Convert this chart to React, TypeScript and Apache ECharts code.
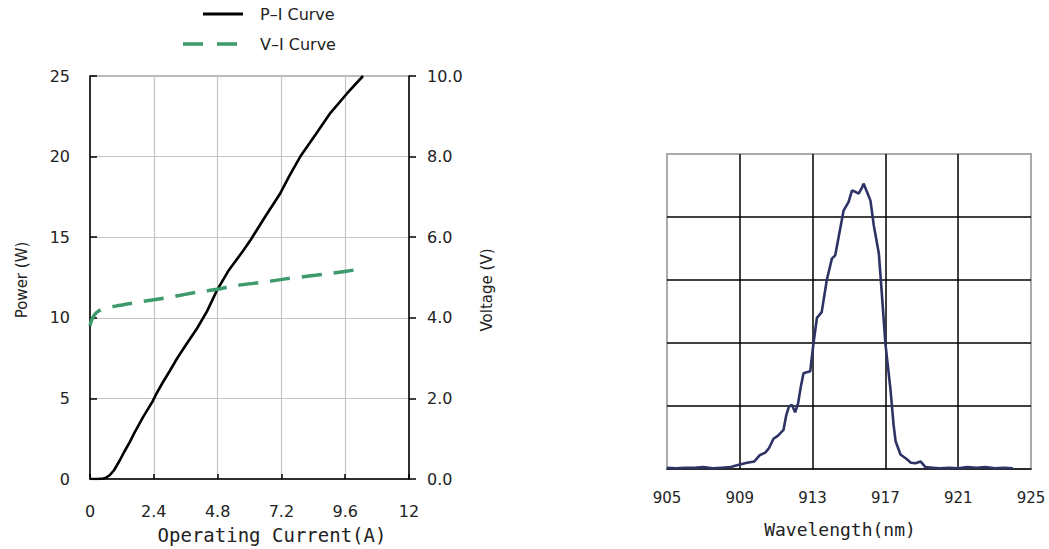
import React, { useEffect, useRef } from "react";
import * as echarts from "echarts";

// P-I curve (Operating current A, Power W)
const piCurrent = [0, 0.3, 0.5, 0.6, 0.75, 0.91, 1.1, 1.29, 1.5, 1.66, 2.0, 2.35, 2.5, 2.72, 3.0, 3.28, 3.6, 4.03, 4.4, 4.78, 5.2, 5.78, 6.04, 6.6, 7.16, 7.5, 7.91, 8.5, 9.04, 9.66, 10.27];
const piPower = [0, 0, 0.03, 0.08, 0.25, 0.56, 1.1, 1.69, 2.3, 2.83, 3.85, 4.8, 5.3, 5.94, 6.7, 7.49, 8.3, 9.35, 10.4, 11.72, 12.9, 14.2, 14.83, 16.3, 17.73, 18.8, 20.0, 21.4, 22.7, 23.9, 25.0];

// V-I curve (Operating current A, Voltage V)
const viCurrent = [0, 0.05, 0.1, 0.2, 0.3, 0.45, 0.96, 1.65, 2.9, 4.16, 4.8, 5.4, 6.72, 7.29, 9.04, 10.29];
const viVoltage = [3.8, 3.92, 4.0, 4.1, 4.16, 4.21, 4.29, 4.37, 4.5, 4.65, 4.71, 4.79, 4.9, 4.96, 5.1, 5.22];

// Spectrum (wavelength nm, relative intensity)
const specWavelength = [905.0, 905.5, 906.0, 906.5, 907.0, 907.5, 908.0, 908.5, 909.0, 909.4, 909.8, 910.1, 910.4, 910.6, 910.85, 911.1, 911.4, 911.55, 911.7, 911.86, 912.04, 912.2, 912.35, 912.5, 912.87, 913.05, 913.24, 913.5, 913.78, 914.06, 914.24, 914.5, 914.7, 914.98, 915.16, 915.35, 915.53, 915.72, 915.8, 916.0, 916.18, 916.36, 916.64, 916.8, 917.0, 917.28, 917.45, 917.56, 917.83, 918.2, 918.4, 918.66, 918.93, 919.2, 919.6, 920.0, 920.5, 921.0, 921.5, 922.0, 922.5, 923.0, 923.5, 924.0];
const specIntensity = [0.02, 0.01, 0.02, 0.02, 0.03, 0.01, 0.02, 0.03, 0.07, 0.1, 0.12, 0.22, 0.26, 0.33, 0.48, 0.53, 0.62, 0.85, 0.99, 1.02, 0.9, 1.04, 1.3, 1.52, 1.55, 2.0, 2.4, 2.49, 3.0, 3.34, 3.39, 3.79, 4.1, 4.24, 4.42, 4.4, 4.37, 4.47, 4.53, 4.39, 4.26, 3.87, 3.42, 2.8, 1.99, 1.26, 0.7, 0.44, 0.23, 0.15, 0.1, 0.09, 0.12, 0.03, 0.02, 0.01, 0.02, 0.01, 0.03, 0.02, 0.03, 0.01, 0.02, 0.01];

const WL_MIN = 905;
const WL_MAX = 925;
const WL_STEP = 4;

const labelFont = "DejaVu Sans, Verdana, sans-serif";
const monoFont = "DejaVu Sans Mono, monospace";

export default function App() {
  const ref = useRef<HTMLDivElement>(null);

  useEffect(() => {
    if (!ref.current) return;
    const chart = echarts.init(ref.current, null, { renderer: "svg" });

    const piData = piCurrent.map((c, i) => [c, piPower[i]]);
    const viData = viCurrent.map((c, i) => [c, viVoltage[i]]);
    const specData = specWavelength.map((w, i) => [w - WL_MIN, specIntensity[i]]);

    chart.setOption({
      animation: false,
      backgroundColor: "#fff",
      grid: [
        { left: 90, top: 76, width: 319, height: 403, show: true, borderColor: "#777", borderWidth: 1 },
        { left: 667, top: 154, width: 364, height: 315, show: true, borderColor: "#aaa", borderWidth: 2 },
      ],
      xAxis: [
        {
          type: "value",
          gridIndex: 0,
          min: 0,
          max: 12,
          interval: 2.4,
          axisLine: { show: true, lineStyle: { color: "#000", width: 1.5 } },
          axisTick: { show: true, inside: true, length: 5, lineStyle: { color: "#000", width: 1.5 } },
          axisLabel: {
            margin: 24,
            fontSize: 16,
            color: "#222",
            fontFamily: labelFont,
            formatter: (v: number) => String(+v.toFixed(1)),
          },
          splitLine: { show: true, showMinLine: false, showMaxLine: false, lineStyle: { color: "#c4c4c4", width: 1.2 } },
        },
        {
          type: "value",
          gridIndex: 1,
          min: 0,
          max: WL_MAX - WL_MIN,
          interval: WL_STEP,
          axisLine: { show: true, lineStyle: { color: "#000", width: 1.5 } },
          axisTick: { show: false },
          axisLabel: {
            margin: 21,
            fontSize: 15,
            color: "#222",
            fontFamily: labelFont,
            formatter: (v: number) => String(Math.round(v + WL_MIN)),
          },
          splitLine: { show: true, showMinLine: false, showMaxLine: false, lineStyle: { color: "#000", width: 1.5 } },
        },
      ],
      yAxis: [
        {
          type: "value",
          gridIndex: 0,
          min: 0,
          max: 25,
          interval: 5,
          position: "left",
          axisLine: { show: true, lineStyle: { color: "#000", width: 1.5 } },
          axisTick: { show: true, inside: true, length: 7, lineStyle: { color: "#000", width: 1.5 } },
          axisLabel: { margin: 20, fontSize: 16, color: "#222", fontFamily: labelFont },
          splitLine: { show: true, showMinLine: false, showMaxLine: false, lineStyle: { color: "#c4c4c4", width: 1.2 } },
        },
        {
          type: "value",
          gridIndex: 0,
          min: 0,
          max: 10,
          interval: 2,
          position: "right",
          axisLine: { show: true, lineStyle: { color: "#000", width: 1.5 } },
          axisTick: { show: true, inside: false, length: 7, lineStyle: { color: "#000", width: 1.5 } },
          axisLabel: {
            margin: 18,
            fontSize: 16,
            color: "#222",
            fontFamily: labelFont,
            formatter: (v: number) => v.toFixed(1),
          },
          splitLine: { show: false },
        },
        {
          type: "value",
          gridIndex: 1,
          min: 0,
          max: 5,
          interval: 1,
          axisLine: { show: false },
          axisTick: { show: false },
          axisLabel: { show: false },
          splitLine: { show: true, showMinLine: false, showMaxLine: false, lineStyle: { color: "#000", width: 1.5 } },
        },
      ],
      series: [
        {
          name: "P-I Curve",
          type: "line",
          xAxisIndex: 0,
          yAxisIndex: 0,
          data: piData,
          showSymbol: false,
          symbol: "none",
          lineStyle: { color: "#000", width: 2.6 },
          z: 3,
        },
        {
          name: "V-I Curve",
          type: "line",
          xAxisIndex: 0,
          yAxisIndex: 1,
          data: viData,
          showSymbol: false,
          symbol: "none",
          smooth: 0.3,
          lineStyle: { color: "#3d9a6b", width: 3.5, type: [20, 12] },
          z: 4,
        },
        {
          name: "Spectrum",
          type: "line",
          xAxisIndex: 1,
          yAxisIndex: 2,
          data: specData,
          showSymbol: false,
          symbol: "none",
          lineStyle: { color: "#2e3366", width: 2.6 },
          z: 3,
        },
      ],
      graphic: [
        { type: "line", shape: { x1: 203, y1: 14, x2: 243, y2: 14 }, style: { stroke: "#000", lineWidth: 3 } },
        {
          type: "text",
          x: 260,
          y: 14,
          style: { text: "P\u2013I Curve", fontSize: 16, fill: "#222", fontFamily: labelFont, align: "left", verticalAlign: "middle" },
        },
        {
          type: "line",
          shape: { x1: 183, y1: 44, x2: 240, y2: 44 },
          style: { stroke: "#3d9a6b", lineWidth: 3.5, lineDash: [20, 14] },
        },
        {
          type: "text",
          x: 260,
          y: 44,
          style: { text: "V\u2013I Curve", fontSize: 16, fill: "#222", fontFamily: labelFont, align: "left", verticalAlign: "middle" },
        },
        {
          type: "text",
          x: 22,
          y: 280,
          rotation: Math.PI / 2,
          style: { text: "Power (W)", fontSize: 15, fill: "#222", fontFamily: labelFont, align: "center", verticalAlign: "middle" },
        },
        {
          type: "text",
          x: 487,
          y: 290,
          rotation: Math.PI / 2,
          style: { text: "Voltage (V)", fontSize: 15, fill: "#222", fontFamily: labelFont, align: "center", verticalAlign: "middle" },
        },
        {
          type: "text",
          x: 272,
          y: 535,
          style: { text: "Operating Current(A)", fontSize: 19, fill: "#222", fontFamily: monoFont, align: "center", verticalAlign: "middle" },
        },
        {
          type: "text",
          x: 840,
          y: 529,
          style: { text: "Wavelength(nm)", fontSize: 18, fill: "#222", fontFamily: monoFont, align: "center", verticalAlign: "middle" },
        },
      ],
    });

    return () => chart.dispose();
  }, []);

  return (
    <div
      ref={ref}
      style={{ position: "absolute", left: 0, top: 0, width: 1049, height: 549, background: "#fff" }}
    />
  );
}
